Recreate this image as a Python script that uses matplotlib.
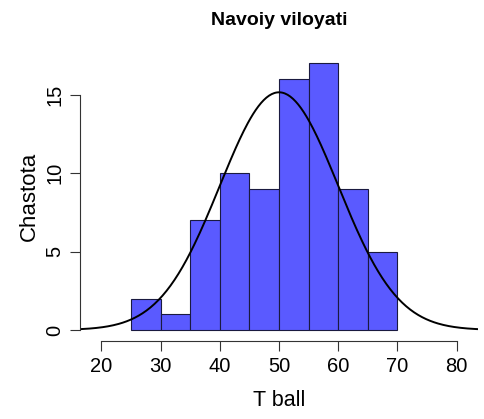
import numpy as np
import matplotlib.pyplot as plt

plt.rcParams['font.family'] = ['Liberation Sans', 'DejaVu Sans']

bin_edges = [25, 30, 35, 40, 45, 50, 55, 60, 65, 70]
counts = [2, 1, 7, 10, 9, 16, 17, 9, 5]
mean_t = 50
sd_t = 10
x_ticks = [20, 30, 40, 50, 60, 70, 80]
y_ticks = [0, 5, 10, 15]

fig = plt.figure(figsize=(4.85, 4.19), dpi=100)
ax = fig.add_axes([0.165, 0.187, 0.8206, 0.687])

widths = np.diff(bin_edges)
ax.bar(bin_edges[:-1], counts, width=widths, align='edge',
       color='#5a5aff', edgecolor='#1a1a40', linewidth=0.8)

# normal curve scaled to counts
n = sum(counts)
xs = np.linspace(16.4, 83.6, 300)
ys = n * 5 / (sd_t * np.sqrt(2 * np.pi)) * np.exp(-0.5 * ((xs - mean_t) / sd_t) ** 2)
ax.plot(xs, ys, color='black', linewidth=1.4)

ax.set_xlim(16.4, 83.6)
ax.set_ylim(-0.68, 17.68)

for s in ['top', 'right']:
    ax.spines[s].set_visible(False)
ax.spines['left'].set_bounds(0, 15)
ax.spines['bottom'].set_bounds(20, 80)
ax.spines['left'].set_color('#333333')
ax.spines['bottom'].set_color('#333333')

ax.set_xticks(x_ticks)
ax.set_yticks(y_ticks)
ax.tick_params(axis='both', length=7, width=0.8, color='#333333', labelsize=14.5)
ax.tick_params(axis='x', pad=5)
ax.tick_params(axis='y', pad=4)
for lbl in ax.get_yticklabels():
    lbl.set_rotation(90)
    lbl.set_va('center')

ax.set_xlabel('T ball', fontsize=15.5, labelpad=10)
ax.set_ylabel('Chastota', fontsize=16, labelpad=4)
ax.set_title('Navoiy viloyati', fontsize=14, fontweight='bold', pad=20)

fig.savefig('out.png', dpi=100)
